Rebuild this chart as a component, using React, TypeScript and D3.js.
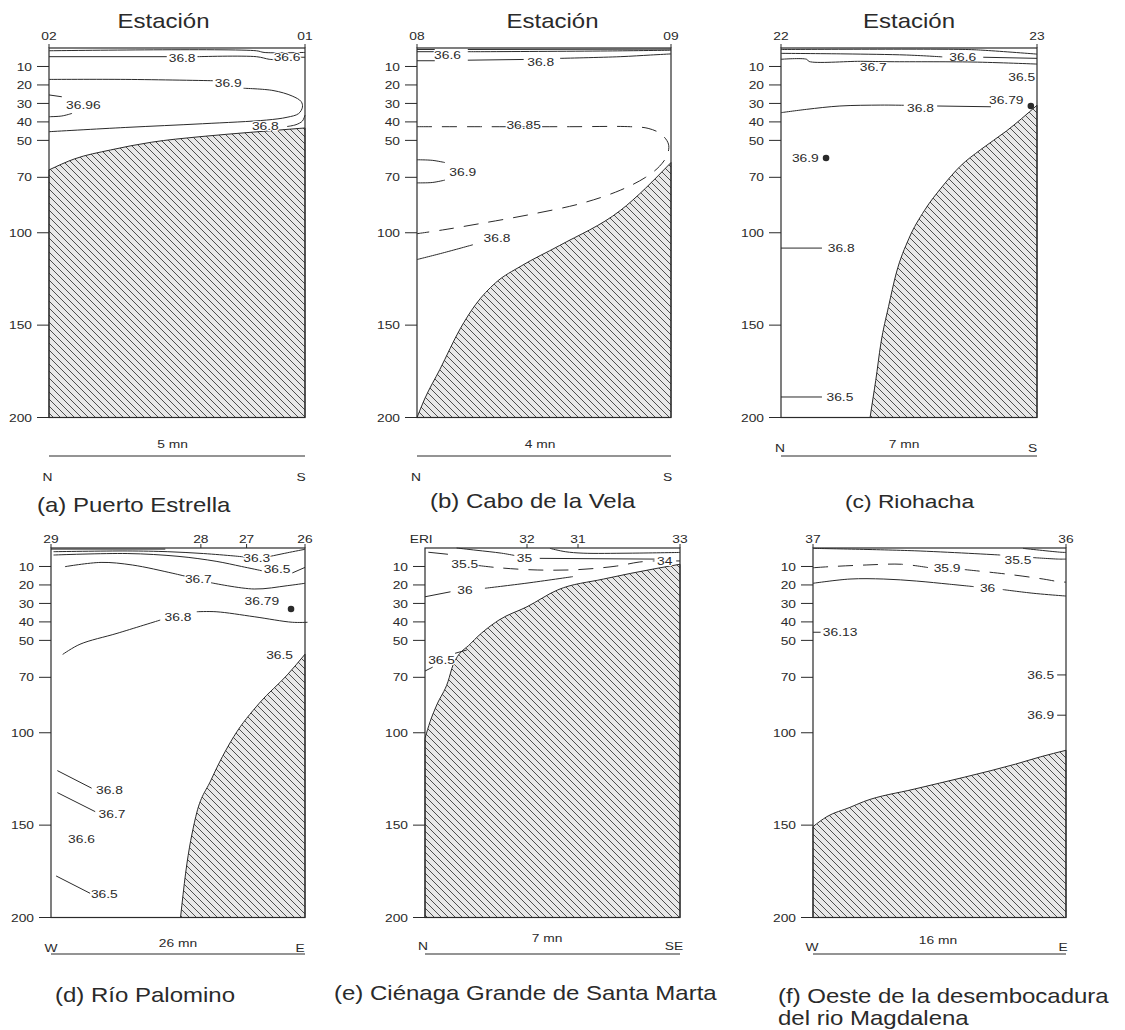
import React from 'react';
import * as d3 from 'd3';

type Pt = [number, number];
type Lab = { t: string; x: number; d: number };
type Contour = { segs: Pt[][]; dashed?: boolean; labels?: Lab[] };

const FONT = "'Liberation Sans', Arial, Helvetica, sans-serif";
const INK = '#2a2a2a';
const SX = 1.2; // the scanned figure is stretched sideways
const PH = 369.5;

const depthTicks = [10, 20, 30, 40, 50, 70, 100, 150, 200];

// station names along the top, position as fraction of section length
const stationsA = [{ n: '02', x: 0 }, { n: '01', x: 1 }];
const stationsB = [{ n: '08', x: 0 }, { n: '09', x: 1 }];
const stationsC = [{ n: '22', x: 0 }, { n: '23', x: 1 }];
const stationsD = [{ n: '29', x: 0 }, { n: '28', x: 0.59 }, { n: '27', x: 0.77 }, { n: '26', x: 1 }];
const stationsE = [{ n: 'ERI', x: -0.015 }, { n: '32', x: 0.4 }, { n: '31', x: 0.6 }, { n: '33', x: 1 }];
const stationsF = [{ n: '37', x: 0 }, { n: '36', x: 1 }];

// seabed profiles [fraction, depth m]
const seabedA: Pt[] = [[0, 66], [0.1, 60], [0.24, 55.2], [0.4, 51], [0.59, 48], [0.8, 45.5], [0.98, 43.5], [1, 43.3]];
const seabedB: Pt[] = [[0, 200], [0.03, 190], [0.09, 174], [0.17, 152], [0.23, 139], [0.31, 127], [0.41, 118], [0.56, 107], [0.8, 88], [1, 62]];
const seabedC: Pt[] = [[0.348, 200], [0.36, 189], [0.37, 180], [0.39, 160], [0.42, 140], [0.45, 122], [0.5, 103], [0.56, 88], [0.63, 75], [0.7, 64], [0.78, 55], [0.88, 45], [1, 31]];
const seabedD: Pt[] = [[0.51, 200], [0.53, 176], [0.57, 145.4], [0.63, 125.6], [0.72, 102], [0.82, 84], [0.93, 68.7], [1, 57.5]];
const seabedE: Pt[] = [[0, 103], [0.02, 94], [0.046, 85], [0.09, 72.4], [0.11, 63.3], [0.18, 51.6], [0.29, 39], [0.4, 31.8], [0.52, 22.7], [0.7, 16.8], [0.91, 11], [1, 8.8]];
const seabedF: Pt[] = [[0, 150.8], [0.055, 145.4], [0.146, 140.4], [0.2, 137.3], [0.4, 130.5], [0.6, 124], [0.8, 117], [0.9, 113], [1, 109.5]];

// salinity isolines
const contoursA: Contour[] = [
  { segs: [[[0, 1.5], [0.81, 1.5], [0.84, 2.4], [1, 2.4]]] },
  { segs: [[[0, 4.7], [0.46, 4.7]], [[0.58, 4.7], [0.81, 4.7], [0.86, 6.1], [0.88, 6.3]]], labels: [{ t: '36.8', x: 0.52, d: 5.3 }] },
  { segs: [[[0.975, 5], [1, 5]]], labels: [{ t: '36.6', x: 0.93, d: 5 }] },
  { segs: [[[0, 17], [0.3, 17], [0.64, 17.7]], [[0.76, 21.8], [0.875, 23], [0.95, 26], [0.985, 29], [0.99, 32], [0.975, 35.5], [0.93, 37.5], [0.85, 39], [0.6, 41], [0.3, 43], [0, 45.3]]], labels: [{ t: '36.9', x: 0.7, d: 19 }] },
  { segs: [[[0, 25.4], [0.05, 26.4]], [[0, 37.2], [0.05, 36.8], [0.09, 35.4]]], labels: [{ t: '36.96', x: 0.134, d: 30.9 }] },
  { segs: [[[0.93, 42.5], [0.965, 41.5], [0.99, 39.5], [1, 36.3]]], labels: [{ t: '36.8', x: 0.845, d: 42.2 }] },
];
const contoursB: Contour[] = [
  { segs: [[[0, 0.8], [0.07, 0.8]], [[0.2, 0.8], [1, 0.6]]] },
  { segs: [[[0, 2], [0.07, 2]], [[0.2, 2], [0.25, 2], [0.75, 1.6], [1, 1.2]]], labels: [{ t: '36.6', x: 0.12, d: 3.8 }] },
  { segs: [[[0, 6.9], [0.07, 6.9]], [[0.2, 6.6], [0.42, 6.2]], [[0.563, 5.6], [0.8, 4.7], [0.92, 3.8], [1, 3.2]]], labels: [{ t: '36.8', x: 0.487, d: 7.4 }] },
  { dashed: true, segs: [[[0, 42.6], [0.25, 42.6], [0.6, 42.6], [0.84, 42.6], [0.91, 43.5], [0.96, 46.5], [0.99, 52], [0.985, 58], [0.955, 64], [0.9, 70], [0.8, 77], [0.65, 84], [0.45, 90], [0.25, 95], [0.1, 98.5], [0, 100.5]]], labels: [{ t: '36.85', x: 0.42, d: 41.7 }] },
  { segs: [[[0, 60.5], [0.06, 60.8], [0.11, 62]], [[0, 73], [0.06, 72.8], [0.11, 71.5]]], labels: [{ t: '36.9', x: 0.18, d: 67 }] },
  { segs: [[[0, 114.5], [0.1, 111], [0.22, 106.5]]], labels: [{ t: '36.8', x: 0.315, d: 102.5 }] },
];
const contoursC: Contour[] = [
  { segs: [[[0, 0.8], [0.72, 0.8], [0.8, 1.3], [1, 3.3]]] },
  { segs: [[[0, 2.9], [0.25, 3.2], [0.49, 3.8], [0.63, 4.8]], [[0.79, 5], [1, 5.6]]], labels: [{ t: '36.6', x: 0.71, d: 5 }] },
  { segs: [[[0, 6.1], [0.1, 6.1], [0.11, 7.3], [0.31, 7.2], [0.41, 7.4], [0.75, 7.6], [1, 8.7]]], labels: [{ t: '36.7', x: 0.36, d: 10.3 }, { t: '36.5', x: 0.94, d: 15.5 }] },
  { segs: [[[0, 35], [0.1, 33.2], [0.23, 31.4], [0.39, 30.9], [0.48, 31]], [[0.61, 31.4], [0.82, 31.8]]], labels: [{ t: '36.8', x: 0.545, d: 32.4 }, { t: '36.79', x: 0.88, d: 28 }] },
  { segs: [], labels: [{ t: '36.9', x: 0.095, d: 59.5 }] },
  { segs: [[[0, 108.3], [0.16, 108.3]]], labels: [{ t: '36.8', x: 0.235, d: 108.3 }] },
  { segs: [[[0, 188.9], [0.16, 188.9]]], labels: [{ t: '36.5', x: 0.23, d: 188.9 }] },
];
const contoursD: Contour[] = [
  { segs: [[[0, 0.6], [0.45, 0.6]]] },
  { segs: [[[0.01, 2], [0.3, 1.6], [0.46, 2], [0.6, 3], [0.72, 4.3], [0.765, 4.9]], [[0.86, 4.6], [0.93, 2.6], [1, 0.7]]], labels: [{ t: '36.3', x: 0.81, d: 5.2 }] },
  { segs: [[[0.01, 3.8], [0.3, 3], [0.5, 4.5], [0.65, 7.2], [0.75, 10], [0.83, 12.3]], [[0.95, 13.5], [1, 10.5]]], labels: [{ t: '36.5', x: 0.89, d: 11.4 }] },
  { segs: [[[0.055, 10.1], [0.197, 7.8], [0.32, 9.2], [0.48, 13.7], [0.535, 15.5]], [[0.63, 18.8], [0.8, 22.2], [0.93, 20.4], [1, 19.1]]], labels: [{ t: '36.7', x: 0.58, d: 16.8 }] },
  { segs: [[[0.046, 57.6], [0.114, 52.1], [0.26, 46.2], [0.43, 39]], [[0.574, 34.5], [0.65, 34.5], [0.8, 37.2], [0.95, 40.2], [1.01, 40.2]]], labels: [{ t: '36.8', x: 0.5, d: 37.5 }, { t: '36.79', x: 0.83, d: 28.7 }] },
  { segs: [], labels: [{ t: '36.5', x: 0.9, d: 57.9 }] },
  { segs: [[[0.025, 120.5], [0.16, 130]]], labels: [{ t: '36.8', x: 0.23, d: 131 }] },
  { segs: [[[0.025, 132.4], [0.174, 142.7]]], labels: [{ t: '36.7', x: 0.24, d: 144.1 }] },
  { segs: [], labels: [{ t: '36.6', x: 0.12, d: 157.7 }] },
  { segs: [[[0.02, 177.5], [0.154, 186.9]]], labels: [{ t: '36.5', x: 0.21, d: 187.3 }] },
];
const contoursE: Contour[] = [
  { segs: [[[0.013, 2.3], [0.09, 3.4]]], labels: [{ t: '35.5', x: 0.156, d: 8.7 }] },
  { segs: [[[0.124, 0], [0.2, 1.2], [0.3, 2.8], [0.35, 4]], [[0.45, 5.6], [0.9, 6]], [[0.985, 7], [1, 7]]], labels: [{ t: '35', x: 0.39, d: 5.3 }, { t: '34', x: 0.94, d: 7 }] },
  { segs: [[[0.49, 0.2], [0.55, 2], [0.62, 2.8], [0.8, 2.8], [1, 2.4]]] },
  { dashed: true, segs: [[[0.21, 9.5], [0.29, 10.7], [0.44, 11.9], [0.6, 11.7], [0.75, 9.8], [0.84, 7.6], [0.9, 7]]] },
  { segs: [[[0, 26.4], [0.1, 23.7]], [[0.235, 21.8], [0.4, 19], [0.58, 15.5]]], labels: [{ t: '36', x: 0.157, d: 22.7 }] },
  { segs: [[[0, 66.6], [0.03, 64.5]], [[0.118, 57], [0.164, 55.2]]], labels: [{ t: '36.5', x: 0.065, d: 60.4 }] },
];
const contoursF: Contour[] = [
  { segs: [[[0, 0.2], [0.4, 1.5], [0.74, 3.8]], [[0.87, 5.2], [0.97, 6], [1, 6]]], labels: [{ t: '35.5', x: 0.81, d: 6.3 }] },
  { segs: [[[0.83, 0.2], [0.98, 2.3], [1, 2.4]]] },
  { dashed: true, segs: [[[0, 10.7], [0.066, 10.1], [0.21, 9.2], [0.35, 8.8], [0.46, 10.7]], [[0.6, 11.7], [0.77, 14.2], [0.91, 16.8], [0.97, 18.2], [1, 18.5]]], labels: [{ t: '35.9', x: 0.53, d: 11 }] },
  { segs: [[[0, 19.1], [0.146, 16.8], [0.28, 16.8], [0.41, 17.9], [0.54, 19.6], [0.635, 20.9]], [[0.75, 22.5], [0.87, 24.5], [0.98, 25.8], [1, 26]]], labels: [{ t: '36', x: 0.69, d: 21.8 }] },
  { segs: [[[0, 45.6], [0.03, 45.6]]], labels: [{ t: '36.13', x: 0.107, d: 45.6 }] },
  { segs: [[[0.965, 68.7], [1, 68.7]]], labels: [{ t: '36.5', x: 0.9, d: 68.7 }] },
  { segs: [[[0.965, 90.5], [1, 90.5]]], labels: [{ t: '36.9', x: 0.9, d: 90.5 }] },
];

// sampling points shown as dots
const dotsC: Lab[] = [{ t: '', x: 0.976, d: 31.4 }, { t: '', x: 0.176, d: 59.5 }];
const dotsD: Lab[] = [{ t: '', x: 0.945, d: 33 }];

const distLabels = ['5 mn', '4 mn', '7 mn', '26 mn', '7 mn', '16 mn'];
const endLabels = [['N', 'S'], ['N', 'S'], ['N', 'S'], ['W', 'E'], ['N', 'SE'], ['W', 'E']];
const captions = [
  ['(a)  Puerto Estrella'],
  ['(b)  Cabo de la Vela'],
  ['(c)  Riohacha'],
  ['(d) Río Palomino'],
  ['(e) Ciénaga Grande de Santa Marta'],
  ['(f) Oeste de la desembocadura', 'del rio Magdalena'],
];

// page geometry of each panel
const layout = [
  { left: 49, right: 305, top: 48, stY: 40, est: 163.5, distX: 172.5, distY: 448, lineY: 456, endsY: 481, endDx: [-1.5, -4], capX: 37, capY: [512], capSize: 20 },
  { left: 417, right: 671, top: 48, stY: 40, est: 552.5, distX: 540, distY: 448, lineY: 456, endsY: 481, endDx: [-1, -3.5], capX: 430, capY: [508], capSize: 20 },
  { left: 781, right: 1037, top: 48, stY: 40, est: 909, distX: 904, distY: 448, lineY: 456, endsY: 452, endDx: [-1, -4.5], capX: 845, capY: [508], capSize: 19 },
  { left: 51, right: 305, top: 548, stY: 543, est: null, distX: 178, distY: 947, lineY: 954, endsY: 952, endDx: [0, -5], capX: 55, capY: [1002], capSize: 20 },
  { left: 425, right: 680, top: 548, stY: 543, est: null, distX: 547, distY: 942, lineY: 954, endsY: 950, endDx: [-2, -6], capX: 334, capY: [1000], capSize: 20 },
  { left: 813, right: 1066, top: 548, stY: 543, est: null, distX: 938, distY: 944, lineY: 954, endsY: 951, endDx: [-1, -3], capX: 778, capY: [1003, 1025], capSize: 20 },
];

const panels = [
  { stations: stationsA, seabed: seabedA, contours: contoursA, dots: [] as Lab[] },
  { stations: stationsB, seabed: seabedB, contours: contoursB, dots: [] as Lab[] },
  { stations: stationsC, seabed: seabedC, contours: contoursC, dots: dotsC },
  { stations: stationsD, seabed: seabedD, contours: contoursD, dots: dotsD },
  { stations: stationsE, seabed: seabedE, contours: contoursE, dots: [] as Lab[] },
  { stations: stationsF, seabed: seabedF, contours: contoursF, dots: [] as Lab[] },
];

function Txt({ x, y, size = 11.5, anchor = 'start', halo = false, dy, children }: any) {
  return (
    <text
      transform={`translate(${x},${y}) scale(${SX},1)`}
      fontSize={size}
      fontFamily={FONT}
      textAnchor={anchor}
      dy={dy}
      fill={INK}
      stroke={halo ? '#fff' : 'none'}
      strokeWidth={halo ? 2.2 : 0}
      strokeLinejoin="round"
      paintOrder="stroke"
    >
      {children}
    </text>
  );
}

function Panel({ i }: { i: number }) {
  const L = layout[i];
  const P = panels[i];
  const x = d3.scaleLinear().domain([0, 1]).range([L.left, L.right]);
  const y = d3.scaleLinear().domain([0, 200]).range([L.top, L.top + PH]);
  const line = d3.line<Pt>().x(d => x(d[0])).y(d => y(d[1])).curve(d3.curveCatmullRom.alpha(0.5));
  const area = d3.area<Pt>().x(d => x(d[0])).y0(y(200)).y1(d => y(d[1])).curve(d3.curveMonotoneX);

  return (
    <g>
      {/* seabed */}
      <path d={area(P.seabed) || ''} fill="url(#hatch)" stroke={INK} strokeWidth={1} />

      {/* isolines */}
      {P.contours.map((c, ci) => (
        <g key={ci}>
          {c.segs.map((s, si) => (
            <path key={si} d={line(s) || ''} fill="none" stroke={INK} strokeWidth={1}
              strokeDasharray={c.dashed ? '15,10' : undefined} />
          ))}
          {(c.labels || []).map((lb, li) => (
            <Txt key={li} x={x(lb.x)} y={y(lb.d)} dy="0.36em" anchor="middle" halo>{lb.t}</Txt>
          ))}
        </g>
      ))}

      {P.dots.map((d, di) => (
        <circle key={di} cx={x(d.x)} cy={y(d.d)} r={3.3} fill={INK} />
      ))}

      {/* frame */}
      <rect x={L.left} y={L.top} width={L.right - L.left} height={PH} fill="none" stroke={INK} strokeWidth={1.2} />

      {/* depth axis */}
      {depthTicks.map(v => (
        <g key={v}>
          <line x1={L.left - 12} x2={L.left} y1={y(v)} y2={y(v)} stroke={INK} strokeWidth={1} />
          <Txt x={L.left - 17} y={y(v)} dy="0.36em" anchor="end">{v}</Txt>
        </g>
      ))}

      {/* stations */}
      {P.stations.map(s => (
        <g key={s.n}>
          {s.x >= 0 && <line x1={x(s.x)} x2={x(s.x)} y1={L.top - 4} y2={L.top} stroke={INK} strokeWidth={1} />}
          <Txt x={x(s.x)} y={L.stY} anchor="middle">{s.n}</Txt>
        </g>
      ))}
      {L.est !== null && <Txt x={L.est} y={28} size={20} anchor="middle">Estación</Txt>}

      {/* distance bar */}
      <Txt x={L.distX} y={L.distY} anchor="middle">{distLabels[i]}</Txt>
      <line x1={L.left} x2={L.right} y1={L.lineY} y2={L.lineY} stroke={INK} strokeWidth={1.2} />
      <Txt x={L.left + L.endDx[0]} y={L.endsY} anchor="middle">{endLabels[i][0]}</Txt>
      <Txt x={L.right + L.endDx[1]} y={L.endsY} anchor="middle">{endLabels[i][1]}</Txt>

      {/* caption */}
      {captions[i].map((c, k) => (
        <Txt key={k} x={L.capX} y={L.capY[k]} size={L.capSize}>{c}</Txt>
      ))}
    </g>
  );
}

export default function App() {
  return (
    <svg width={1125} height={1030} style={{ position: 'absolute', left: 0, top: 0, background: '#fff' }}>
      <defs>
        <pattern id="hatch" patternUnits="userSpaceOnUse" width={7} height={7}>
          <rect width={7} height={7} fill="#e8e8e8" />
          <path d="M-1,-1 L8,8 M-1,6 L1,8 M6,-1 L8,1" stroke="#3c3c3c" strokeWidth={0.9} />
        </pattern>
      </defs>
      <rect width={1125} height={1030} fill="#fff" />
      {layout.map((_, i) => <Panel key={i} i={i} />)}
    </svg>
  );
}
